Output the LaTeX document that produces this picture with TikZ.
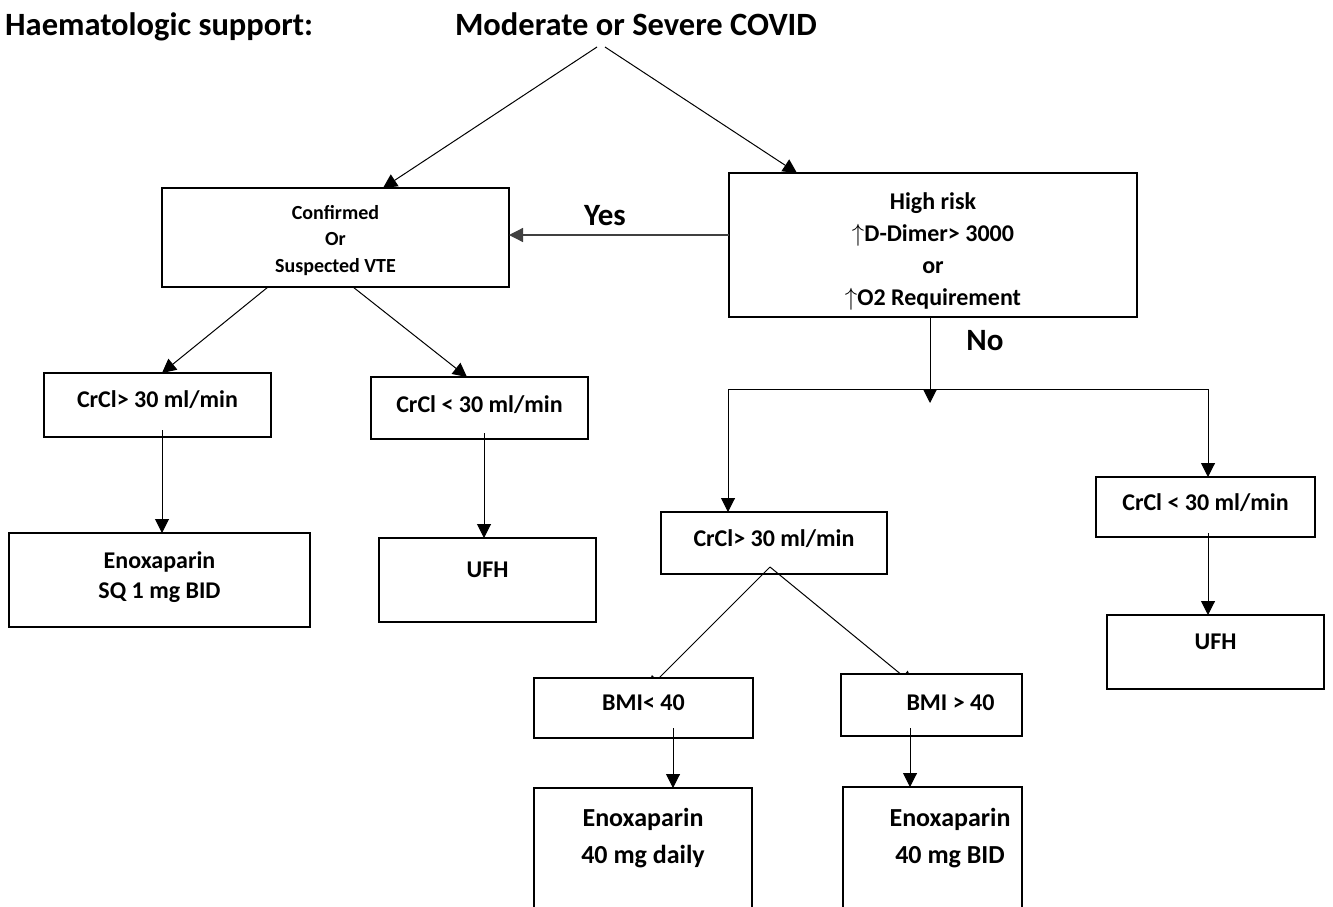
\documentclass[tikz,border=0pt]{standalone}
\usepackage{fontspec}
\setmainfont{Carlito}
\usetikzlibrary{arrows.meta,calc,backgrounds}

\tikzset{
  % box of given width, height, first baseline from the top, and text offset
  tbox/.style n args={4}{draw, line width=2.3pt, inner sep=0pt, outer sep=0pt,
    execute at begin node={\begin{minipage}[c][#2][t]{#1}\centering
      \leftskip=#4 plus 1fil\vspace*{\dimexpr#3-\ht\strutbox\relax}\strut},
    execute at end node={\end{minipage}}},
  fsmall/.style={font=\fontsize{20}{26.5}\selectfont\bfseries},
  fmid/.style={font=\fontsize{24}{32}\selectfont\bfseries},
  fbox/.style={font=\fontsize{24}{30}\selectfont\bfseries},
  fbig/.style={font=\fontsize{26}{37}\selectfont\bfseries},
  heading/.style={font=\fontsize{32.5}{38}\selectfont\bfseries, inner sep=0pt},
  answer/.style={font=\fontsize{31}{36}\selectfont\bfseries, inner sep=0pt},
  arr/.style={line width=1pt, -{Triangle[width=14pt,length=14pt]}},
  link/.style={line width=1pt},
}

\begin{document}
\begin{tikzpicture}[x=1pt,y=-1pt]
\useasboundingbox (0,0) rectangle (1333,906);

% headings
\node[heading, anchor=base west] (hsup) at (5,35) {Haematologic support:};
\node[heading, anchor=base] (covid) at (636,35) {Moderate or Severe COVID};
\coordinate (apexL) at (597,47);
\coordinate (apexR) at (605,47);

% decision boxes
\node[tbox={347pt}{99pt}{31.4pt}{0pt}, fsmall] (conf) at (335.5,237.5)
  {Confirmed\\Or\\Suspected VTE};
\node[tbox={408pt}{144pt}{36.7pt}{0pt}, fmid] (high) at (933,245)
  {High risk\\$\uparrow$D-Dimer> 3000\\or\\$\uparrow$O2 Requirement};

% left branch
\node[tbox={227pt}{64pt}{34.7pt}{0pt}, fbox] (crclL) at (157.5,405) {CrCl> 30 ml/min};
\node[tbox={217pt}{62pt}{35.7pt}{0pt}, fbox] (crclM) at (479.5,408) {CrCl < 30 ml/min};
\node[tbox={301pt}{94pt}{35pt}{0pt}, fbox] (enoxSQ) at (159.5,580) {Enoxaparin\\SQ 1 mg BID};
\node[tbox={217pt}{84pt}{39.7pt}{0pt}, fbox] (ufhL) at (487.5,580) {UFH};

% right branch
\node[tbox={226pt}{62pt}{34.7pt}{0pt}, fbox] (crclR) at (774,543) {CrCl> 30 ml/min};
\node[tbox={219pt}{60pt}{33.7pt}{0pt}, fbox] (crclRR) at (1205.5,507) {CrCl < 30 ml/min};
\node[tbox={217pt}{74pt}{34.7pt}{0pt}, fbox] (ufhR) at (1215.5,652) {UFH};
\node[tbox={219pt}{60pt}{32.7pt}{0pt}, fbox, fill=white] (bmiL) at (643.5,708) {BMI< 40};
\node[tbox={181pt}{62pt}{36.7pt}{38pt}, fbox, fill=white] (bmiR) at (931.5,705) {BMI > 40};
\node[tbox={218pt}{127pt}{38.3pt}{0pt}, fbig] (enoxD) at (643,851.5) {Enoxaparin\\40 mg daily};
\node[tbox={179pt}{128pt}{39.3pt}{35pt}, fbig] (enoxB) at (932.5,851) {Enoxaparin\\40 mg BID};

% answers
\node[answer, anchor=base] (yes) at (605,225) {Yes};
\node[answer, anchor=base] (no) at (985,350) {No};

% connectors from the heading
\draw[arr] (apexL) -- (conf.north -| 383,0);
\draw[arr] (apexR) -- (high.north -| 797,0);

% yes / no
\draw[arr, line width=1.3pt, draw=black!75] (high.west |- 0,235) -- (conf.east |- 0,235);
\coordinate (noTip) at (930,403);
\coordinate (splitL) at (728,389);
\coordinate (splitR) at (1208,389);
\draw[arr] (high.south -| noTip) -- (noTip);
\draw[link] (splitL) -- (splitR);
\draw[arr] (splitL) -- (crclR.north -| splitL);
\draw[arr] (splitR) -- (crclRR.north -| splitR);

% left branch connectors
\draw[arr] (conf.south -| 268,0) -- (crclL.north -| 162,0);
\draw[arr] (conf.south -| 353,0) -- (crclM.north -| 467,0);
\draw[arr] ($(crclL.south -| 162,0)+(0,-7)$) -- (enoxSQ.north -| 162,0);
\draw[arr] ($(crclM.south -| 484,0)+(0,-6)$) -- (ufhL.north -| 484,0);

% right branch connectors
\draw[arr] ($(crclRR.south -| 1208,0)+(0,-4)$) -- (ufhR.north -| 1208,0);
\coordinate (apexB) at ($(crclR.south -| 770,0)+(0,-7)$);
\begin{scope}[on background layer]
  \draw[arr] (apexB) -- ($(bmiL.north -| 647,0)+(0,12)$);
  \draw[arr] (apexB) -- ($(bmiR.north -| 914,0)+(0,11)$);
\end{scope}
\draw[arr] ($(bmiL.south -| 673,0)+(0,-10)$) -- (enoxD.north -| 673,0);
\draw[arr] ($(bmiR.south -| 910,0)+(0,-8)$) -- (enoxB.north -| 910,0);
\end{tikzpicture}
\end{document}
